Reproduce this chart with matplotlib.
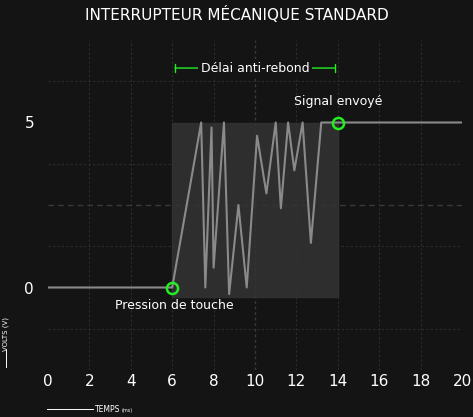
import matplotlib
matplotlib.use("Agg")
import matplotlib.pyplot as plt
from matplotlib.patches import Rectangle

# ── DATA ──────────────────────────────────────────────────────────────────────
time_ms = [0, 6, 7.4, 7.6, 7.9, 8.0, 8.5, 8.75, 9.2, 9.6, 10.1, 10.55, 11.0,
           11.25, 11.6, 11.9, 12.3, 12.7, 13.2, 14, 20]
volts   = [0, 0, 5, 0, 4.85, 0.6, 5, -0.2, 2.5, 0, 4.6, 2.85, 5,
           2.4, 5, 3.55, 5, 1.35, 5, 5, 5]
press_pt  = (6, 0)
signal_pt = (14, 5)
x_ticks = [0, 2, 4, 6, 8, 10, 12, 14, 16, 18, 20]
y_ticks = [0, 5]
# ─────────────────────────────────────────────────────────────────────────────

BG = "#141414"
GREEN = "#22ee22"

fig = plt.figure(figsize=(4.73, 4.17), dpi=100, facecolor=BG)
ax = fig.add_axes([48 / 473, 47 / 417, 414 / 473, 330 / 417])
ax.set_facecolor(BG)
ax.set_xlim(0, 20)
ax.set_ylim(-2.5, 7.5)

# dotted grid
for gx in [2, 4, 6, 8, 12, 14, 16, 18]:
    ax.axvline(gx, color="#2c2c2c", lw=0.8, ls=(0, (2, 2)), zorder=0)
ax.axvline(10, color="#3a3a3a", lw=1, ls=(0, (2, 2)), zorder=0)
for gy in [-1.25, 1.25, 3.75, 6.25]:
    ax.axhline(gy, color="#2c2c2c", lw=0.8, ls=(0, (2, 2)), zorder=0)
ax.axhline(2.5, color="#3a3a3a", lw=1, ls=(0, (4, 3)), zorder=0)

# bounce window
ax.add_patch(Rectangle((6, -0.3), 8, 5.3, color="#333333", alpha=0.85, zorder=1))

ax.plot(time_ms, volts, color="#8a8a8a", lw=1.5, zorder=2)
ax.plot(*press_pt, "o", ms=8, mfc="none", mec=GREEN, mew=1.8, zorder=3)
ax.plot(*signal_pt, "o", ms=8, mfc="none", mec=GREEN, mew=1.8, zorder=3)

ax.text(6.1, -0.35, "Pression de touche", color="white", fontsize=9, ha="center", va="top")
ax.text(14, 5.45, "Signal envoyé", color="white", fontsize=9, ha="center", va="bottom")

# Délai anti-rebond bracket
ax.annotate("", xy=(6, 6.65), xytext=(14, 6.65),
            arrowprops=dict(arrowstyle="|-|", color=GREEN, lw=1, mutation_scale=3))
ax.text(10, 6.65, "Délai anti-rebond", color="white", fontsize=9, ha="center", va="center",
        bbox=dict(facecolor=BG, edgecolor="none", pad=2))

ax.set_xticks(x_ticks)
ax.set_yticks(y_ticks)
ax.tick_params(colors="white", labelsize=11, length=0, pad=3)
ax.tick_params(axis="y", pad=10)
for s in ax.spines.values():
    s.set_visible(False)

fig.text(0.5, 0.965, "INTERRUPTEUR MÉCANIQUE STANDARD", color="white", fontsize=11,
         ha="center", va="center")

# axis labels with arrows
fig.text(0.2, 0.018, "TEMPS", color="white", fontsize=5.5, ha="left", va="center")
fig.text(0.258, 0.016, "(ms)", color="white", fontsize=3.5, ha="left", va="center")
fig.add_artist(plt.Line2D([0.1, 0.197], [0.018, 0.018], color="white", lw=0.7))
fig.text(0.012, 0.2, "VOLTS (V)", color="white", fontsize=5, rotation=90, ha="center", va="center")
fig.add_artist(plt.Line2D([0.012, 0.012], [0.12, 0.16], color="white", lw=0.7))

fig.savefig("out.png", dpi=100, facecolor=BG)
